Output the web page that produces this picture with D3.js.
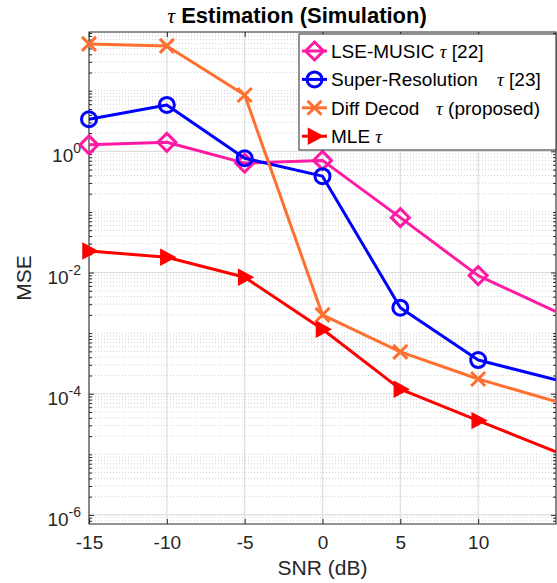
<!DOCTYPE html>
<html>
<head>
<meta charset="utf-8">
<style>
  body { margin: 0; background: #fff; }
  svg text { font-family: "Liberation Sans", Arial, sans-serif; fill: #262626; }
  svg .tau { font-family: "Liberation Serif", "DejaVu Serif", serif; font-style: italic; font-weight: normal; }
</style>
</head>
<body>
<svg id="chart"></svg>
<script src="https://d3js.org/d3.v7.min.js"></script>
<script>
// SNR (dB) and MSE values
var snr = [-15, -10, -5, 0, 5, 10, 15];
var lseMusic = [1.28, 1.41, 0.64, 0.71, 0.0805, 0.0089, 0.00226];
var superRes = [3.39, 5.83, 0.77, 0.39, 0.00263, 0.00036, 0.000169];
var diffDecod = [59.3, 55, 8.5, 0.0020, 0.00049, 0.000175, 0.000074];
var mle = [0.0227, 0.0179, 0.00836, 0.00116, 0.000119, 0.000036, 0.000011];

var xTicks = [-15, -10, -5, 0, 5, 10];
var yTickExp = [-6, -4, -2, 0, 2];

var width = 557, height = 583;
var pLeft = 89, pRight = 556, pTop = 32, pBottom = 524;

var svg = d3.select("#chart").attr("width", width).attr("height", height);

var x = d3.scaleLinear().domain([-15, 15]).range([pLeft, pRight]);
var y = d3.scaleLog().domain([Math.pow(10, -6.15), Math.pow(10, 1.97)]).range([pBottom, pTop]);

// minor (2..9 and odd decades) positions for the log axis
var yMinor = [];
for (var e = -7; e <= 2; e++) {
  for (var m = 1; m <= 9; m++) {
    if (m == 1 && e % 2 == 0) continue;
    var v = m * Math.pow(10, e);
    if (v >= y.domain()[0] && v <= y.domain()[1]) yMinor.push(v);
  }
}
var yMajor = yTickExp.map(function(p) { return Math.pow(10, p); })
  .filter(function(v) { return v >= y.domain()[0] && v <= y.domain()[1]; });

// grid
var grid = svg.append("g");
grid.selectAll(".minor").data(yMinor).enter().append("line")
  .attr("x1", pLeft).attr("x2", pRight)
  .attr("y1", function(d) { return y(d); }).attr("y2", function(d) { return y(d); })
  .attr("stroke", "#c4c4c4").attr("stroke-width", 0.8).attr("stroke-dasharray", "1,2");
grid.selectAll(".ymaj").data(yMajor).enter().append("line")
  .attr("x1", pLeft).attr("x2", pRight)
  .attr("y1", function(d) { return y(d); }).attr("y2", function(d) { return y(d); })
  .attr("stroke", "#dedede").attr("stroke-width", 1.2);
grid.selectAll(".xmaj").data(xTicks.concat([15])).enter().append("line")
  .attr("y1", pTop).attr("y2", pBottom)
  .attr("x1", function(d) { return x(d); }).attr("x2", function(d) { return x(d); })
  .attr("stroke", "#dedede").attr("stroke-width", 1.2);

// axes (ticks pointing inward)
svg.append("g").attr("transform", "translate(0," + pBottom + ")")
  .call(d3.axisBottom(x).tickValues(xTicks).tickSize(-5).tickPadding(12)
    .tickFormat(function(d) { return String(d); }))
  .call(function(g) {
    g.select(".domain").remove();
    g.selectAll("text").style("font-size", "19px");
  });
svg.append("g").attr("transform", "translate(0," + pTop + ")")
  .call(d3.axisTop(x).tickValues(xTicks).tickSize(-5).tickFormat(""))
  .call(function(g) { g.select(".domain").remove(); });

[[d3.axisLeft, pLeft], [d3.axisRight, pRight]].forEach(function(a) {
  svg.append("g").attr("transform", "translate(" + a[1] + ",0)")
    .call(a[0](y).tickValues(yMajor).tickSize(-5).tickFormat(""))
    .call(function(g) { g.select(".domain").remove(); });
  svg.append("g").attr("transform", "translate(" + a[1] + ",0)")
    .call(a[0](y).tickValues(yMinor).tickSize(-3).tickFormat(""))
    .call(function(g) { g.select(".domain").remove(); });
});
svg.selectAll(".tick line").attr("stroke", "#262626");

// y labels 10^n
var yl = svg.append("g").selectAll("text").data(yTickExp.filter(function(p) {
    return Math.pow(10, p) >= y.domain()[0] && Math.pow(10, p) <= y.domain()[1];
  })).enter().append("text")
  .attr("x", 81).attr("y", function(d) { return y(Math.pow(10, d)) + 11; })
  .attr("text-anchor", "end").style("font-size", "19px");
yl.append("tspan").text("10");
yl.append("tspan").attr("dy", -9).style("font-size", "14px").text(function(d) { return d; });

// frame
svg.append("rect").attr("x", pLeft).attr("y", pTop)
  .attr("width", pRight - pLeft).attr("height", pBottom - pTop)
  .attr("fill", "none").attr("stroke", "#262626").attr("stroke-width", 1);

// labels
svg.append("text").attr("x", (pLeft + pRight) / 2).attr("y", 575)
  .attr("text-anchor", "middle").style("font-size", "21px").text("SNR (dB)");
svg.append("text").attr("transform", "translate(31," + (pTop + pBottom) / 2 + ") rotate(-90)")
  .attr("text-anchor", "middle").style("font-size", "21px").text("MSE");
var title = svg.append("text").attr("x", 297).attr("y", 23)
  .attr("text-anchor", "middle").style("font-size", "22px").style("font-weight", "bold").style("fill", "#000");
title.append("tspan").attr("class", "tau").text("τ");
title.append("tspan").text(" Estimation (Simulation)");

// series
var series = [
  { values: lseMusic, color: "#ff1aa3", marker: "diamond",
    label: [["LSE-MUSIC "], ["τ", null], [" [22]"]] },
  { values: superRes, color: "#0000ff", marker: "circle",
    label: [["Super-Resolution"], ["τ", 497], [" [23]"]] },
  { values: diffDecod, color: "#ff7030", marker: "cross",
    label: [["Diff Decod"], ["τ", 436], [" (proposed)"]] },
  { values: mle, color: "#ff0000", marker: "triangle",
    label: [["MLE "], ["τ", null]] }
];

function drawMarker(g, type, color) {
  if (type == "diamond") {
    g.append("path").attr("d", "M0,-9L9,0L0,9L-9,0Z")
      .attr("fill", "none").attr("stroke", color).attr("stroke-width", 3);
  } else if (type == "circle") {
    g.append("circle").attr("r", 7.5)
      .attr("fill", "none").attr("stroke", color).attr("stroke-width", 3);
  } else if (type == "cross") {
    g.append("path").attr("d", "M-7,-7L7,7M-7,7L7,-7")
      .attr("fill", "none").attr("stroke", color).attr("stroke-width", 3);
  } else {
    g.append("path").attr("d", "M-6,-7.5L8,0L-6,7.5Z")
      .attr("fill", color).attr("stroke", color).attr("stroke-width", 1.5);
  }
}

svg.append("clipPath").attr("id", "plotclip").append("rect")
  .attr("x", pLeft).attr("y", pTop).attr("width", pRight - pLeft).attr("height", pBottom - pTop);

var line = d3.line()
  .x(function(d) { return x(d[0]); })
  .y(function(d) { return y(d[1]); });

var plot = svg.append("g");
series.forEach(function(s) {
  var pts = snr.map(function(v, i) { return [v, s.values[i]]; });
  plot.append("path").datum(pts).attr("d", line).attr("clip-path", "url(#plotclip)")
    .attr("fill", "none").attr("stroke", s.color).attr("stroke-width", 3)
    .attr("stroke-linejoin", "round");
  // the marker at the right edge is cropped off in the figure
  pts.filter(function(d) { return d[0] < 15; }).forEach(function(d) {
    var g = plot.append("g").attr("transform", "translate(" + x(d[0]) + "," + y(d[1]) + ")");
    drawMarker(g, s.marker, s.color);
  });
});

// legend
var legend = svg.append("g");
legend.append("rect").attr("x", 299).attr("y", 34).attr("width", 257).attr("height", 116)
  .attr("fill", "#fff").attr("stroke", "#262626").attr("stroke-width", 1);
series.forEach(function(s, i) {
  var cy = 51 + i * 28.4;
  legend.append("line").attr("x1", 302).attr("x2", 327).attr("y1", cy).attr("y2", cy)
    .attr("stroke", s.color).attr("stroke-width", 3);
  drawMarker(legend.append("g").attr("transform", "translate(314.5," + cy + ")"), s.marker, s.color);
  var t = legend.append("text").attr("x", 331).attr("y", cy + 7).style("font-size", "19px").style("fill", "#000");
  s.label.forEach(function(p) {
    var ts = t.append("tspan").text(p[0]);
    if (p.length > 1) {
      ts.attr("class", "tau");
      if (p[1] != null) ts.attr("x", p[1]);
    }
  });
});
</script>
</body>
</html>
